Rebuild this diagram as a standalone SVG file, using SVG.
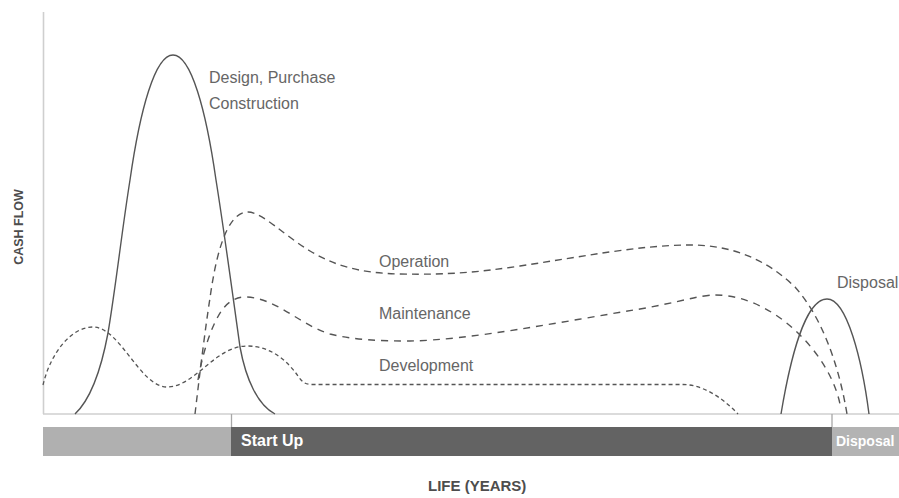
<svg xmlns="http://www.w3.org/2000/svg" width="899" height="498" viewBox="0 0 899 498">
  <style>
    .axis { stroke: #cfcfcf; stroke-width: 1.6; fill: none; }
    .tick { stroke: #a8a8a8; stroke-width: 1.3; fill: none; }
    .solid { stroke: #555555; stroke-width: 1.4; fill: none; }
    .op { stroke: #555555; stroke-width: 1.4; fill: none; stroke-dasharray: 7 5; }
    .mt { stroke: #555555; stroke-width: 1.4; fill: none; stroke-dasharray: 7 6; }
    .dv { stroke: #555555; stroke-width: 1.3; fill: none; stroke-dasharray: 4 3; }
    .lbl { font-family: "Liberation Sans", Arial, sans-serif; font-size: 16px; fill: #666666; }
    .bar { font-family: "Liberation Sans", Arial, sans-serif; font-size: 16px; font-weight: bold; fill: #ffffff; }
    .bar.small { font-size: 14px; }
    .ax { font-family: "Liberation Sans", Arial, sans-serif; font-weight: bold; fill: #4d4d4d; }
  </style>
  <rect width="899" height="498" fill="#ffffff"/>

  <g id="axes">
    <line class="axis" x1="43.5" y1="12" x2="43.5" y2="414"/>
    <line class="axis" x1="43" y1="414" x2="899" y2="414"/>
    <text class="ax" font-size="12.5" text-anchor="middle" transform="translate(23,227) rotate(-90)">CASH FLOW</text>
    <text class="ax" font-size="15" x="428" y="491">LIFE (YEARS)</text>
  </g>

  <g id="timeline">
    <rect x="43" y="427" width="188" height="29" fill="#b0b0b0"/>
    <rect x="231" y="427" width="601" height="29" fill="#636363"/>
    <rect x="832" y="427" width="67" height="29" fill="#b3b3b3"/>
    <line class="tick" x1="231.5" y1="414" x2="231.5" y2="427"/>
    <line class="tick" x1="832" y1="414" x2="832" y2="427"/>
    <text class="bar" x="241" y="446">Start Up</text>
    <text class="bar small" x="836" y="446">Disposal</text>
  </g>

  <g id="curves">
    <g id="design-purchase-construction">
      <path class="solid" d="M75,414 C92,398 102,365 108,333 C116,285 122,230 130,180 C140,110 155,55 173,55 C191,55 206,110 216,180 C224,230 232,290 240,347 C246,380 258,405 275,414"/>
    </g>
    <g id="operation">
      <path class="op" d="M195,414 C199,380 205,330 210,298 C215,262 225,212 248,212 C262,212 285,236 310,251 C335,266 360,273 400,274 C450,275 480,272 520,266 C580,257 640,245 690,245 C730,245 765,258 795,287 C820,315 838,360 847,414"/>
    </g>
    <g id="maintenance">
      <path class="mt" d="M198,380 C203,350 215,312 230,302 C236,298 240,297 245,297 C275,297 300,325 330,334 C355,340 380,341 410,341 C470,340 560,322 640,309 C680,302 700,295 715,295 C745,295 775,310 800,335 C820,355 835,380 840,404"/>
    </g>
    <g id="development">
      <path class="dv" d="M43,385 C50,355 70,327 93,327 C120,327 140,387 167,387 C195,387 215,346 247,346 C272,346 288,362 298,376 C302,382 305,384.5 312,384.5 L683,384.5 C700,384.5 720,395 738,414"/>
    </g>
    <g id="disposal">
      <path class="solid" d="M781,414 C790,360 805,299 827,299 C847,299 862,360 869,414"/>
    </g>
  </g>

  <g id="labels">
    <text class="lbl" x="209" y="83">Design, Purchase</text>
    <text class="lbl" x="209" y="109">Construction</text>
    <text class="lbl" x="379" y="267">Operation</text>
    <text class="lbl" x="379" y="319">Maintenance</text>
    <text class="lbl" x="379" y="371">Development</text>
    <text class="lbl" x="837" y="288">Disposal</text>
  </g>
</svg>
